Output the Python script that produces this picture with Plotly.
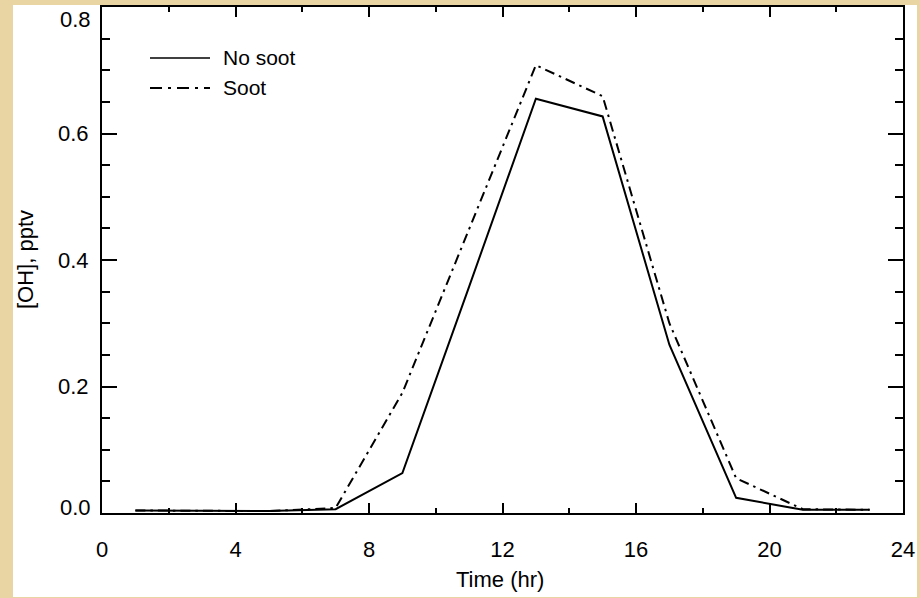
import plotly.graph_objects as go

# Data
hours = [1, 3, 5, 7, 9, 11, 13, 15, 17, 19, 21, 23]
oh_no_soot = [0.004, 0.003, 0.003, 0.006, 0.063, 0.358, 0.655, 0.627, 0.266, 0.024, 0.005, 0.005]
oh_soot = [0.004, 0.003, 0.003, 0.008, 0.190, 0.449, 0.708, 0.659, 0.300, 0.055, 0.006, 0.005]
series_names = ["No soot", "Soot"]
x_ticks = [0, 4, 8, 12, 16, 20, 24]
y_ticks = [0.0, 0.2, 0.4, 0.6, 0.8]

FONT = "Liberation Sans, Arial, Helvetica, sans-serif"
FS = 22
W, H = 920, 598
L, R, T, B = 102, 17, 7, 85
PW, PH = W - L - R, H - T - B


def px(xp):
    return (xp - L) / PW


def py(yp):
    return (H - B - yp) / PH


fig = go.Figure()
fig.add_trace(go.Scatter(x=hours, y=oh_no_soot, mode="lines", name=series_names[0],
                         line=dict(color="black", width=2), showlegend=False))
fig.add_trace(go.Scatter(x=hours, y=oh_soot, mode="lines", name=series_names[1],
                         line=dict(color="black", width=2, dash="10px,5px,2.5px,5px"),
                         showlegend=False))

shapes = [
    # white card
    dict(type="rect", xref="paper", yref="paper", x0=px(13), x1=px(917), y0=py(597), y1=py(5),
         fillcolor="white", line=dict(width=0), layer="below"),
    # legend lines
    dict(type="line", xref="paper", yref="paper", x0=px(150), x1=px(210), y0=py(58), y1=py(58),
         line=dict(color="black", width=1.5)),
    dict(type="line", xref="paper", yref="paper", x0=px(150), x1=px(210), y0=py(88), y1=py(88),
         line=dict(color="black", width=2, dash="12px,6px,3px,6px")),
]

lab_font = dict(family=FONT, size=FS, color="black")
annotations = [
    dict(text=series_names[0], xref="paper", yref="paper", x=px(221), y=py(58), xanchor="left",
         yanchor="middle", showarrow=False, font=dict(family=FONT, size=21, color="black")),
    dict(text=series_names[1], xref="paper", yref="paper", x=px(221), y=py(88), xanchor="left",
         yanchor="middle", showarrow=False, font=dict(family=FONT, size=21, color="black")),
    dict(text="Time (hr)", xref="paper", yref="paper", x=px(500), y=py(579), xanchor="center",
         yanchor="middle", showarrow=False, font=lab_font),
    dict(text="[OH], pptv", xref="paper", yref="paper", x=px(25), y=0.5, xanchor="center",
         yanchor="middle", textangle=-90, showarrow=False, font=lab_font),
    # end tick labels, nudged inside the frame as in the original
    dict(text=f"{y_ticks[-1]:.1f}", xref="paper", yref="paper", x=px(93), y=py(20),
         xanchor="right", yanchor="middle", showarrow=False, font=lab_font),
    dict(text=f"{y_ticks[0]:.1f}", xref="paper", yref="paper", x=px(93), y=py(507),
         xanchor="right", yanchor="middle", showarrow=False, font=lab_font),
]

mid_y = y_ticks[1:-1]

fig.update_layout(
    width=W, height=H,
    margin=dict(l=L, r=R, t=T, b=B, pad=0, autoexpand=False),
    paper_bgcolor="#E9D4A3",
    plot_bgcolor="white",
    shapes=shapes,
    annotations=annotations,
    showlegend=False,
    font=dict(family=FONT, size=FS, color="black"),
    xaxis=dict(range=[0, 24], tickvals=x_ticks, ticktext=[str(v) for v in x_ticks],
               ticks="inside", ticklen=10, tickwidth=1.5, tickcolor="black",
               minor=dict(dtick=2, ticks="inside", ticklen=5, tickwidth=1.5, tickcolor="black"),
               showline=True, linecolor="black", linewidth=2, mirror="ticks",
               showgrid=False, zeroline=False, ticklabelstandoff=16,
               ticklabeloverflow="allow", automargin=False,
               tickfont=lab_font),
    yaxis=dict(range=[0, 0.8], tickvals=y_ticks, ticktext=[f"{v:.1f}" if v in mid_y else "" for v in y_ticks],
               ticks="inside", ticklen=15, tickwidth=1.5, tickcolor="black",
               minor=dict(dtick=0.05, ticks="inside", ticklen=8, tickwidth=1.5, tickcolor="black"),
               showline=True, linecolor="black", linewidth=2, mirror="ticks",
               showgrid=False, zeroline=False, ticklabelstandoff=7,
               ticklabeloverflow="allow", automargin=False,
               tickfont=lab_font),
)

fig.write_html("out.html")
